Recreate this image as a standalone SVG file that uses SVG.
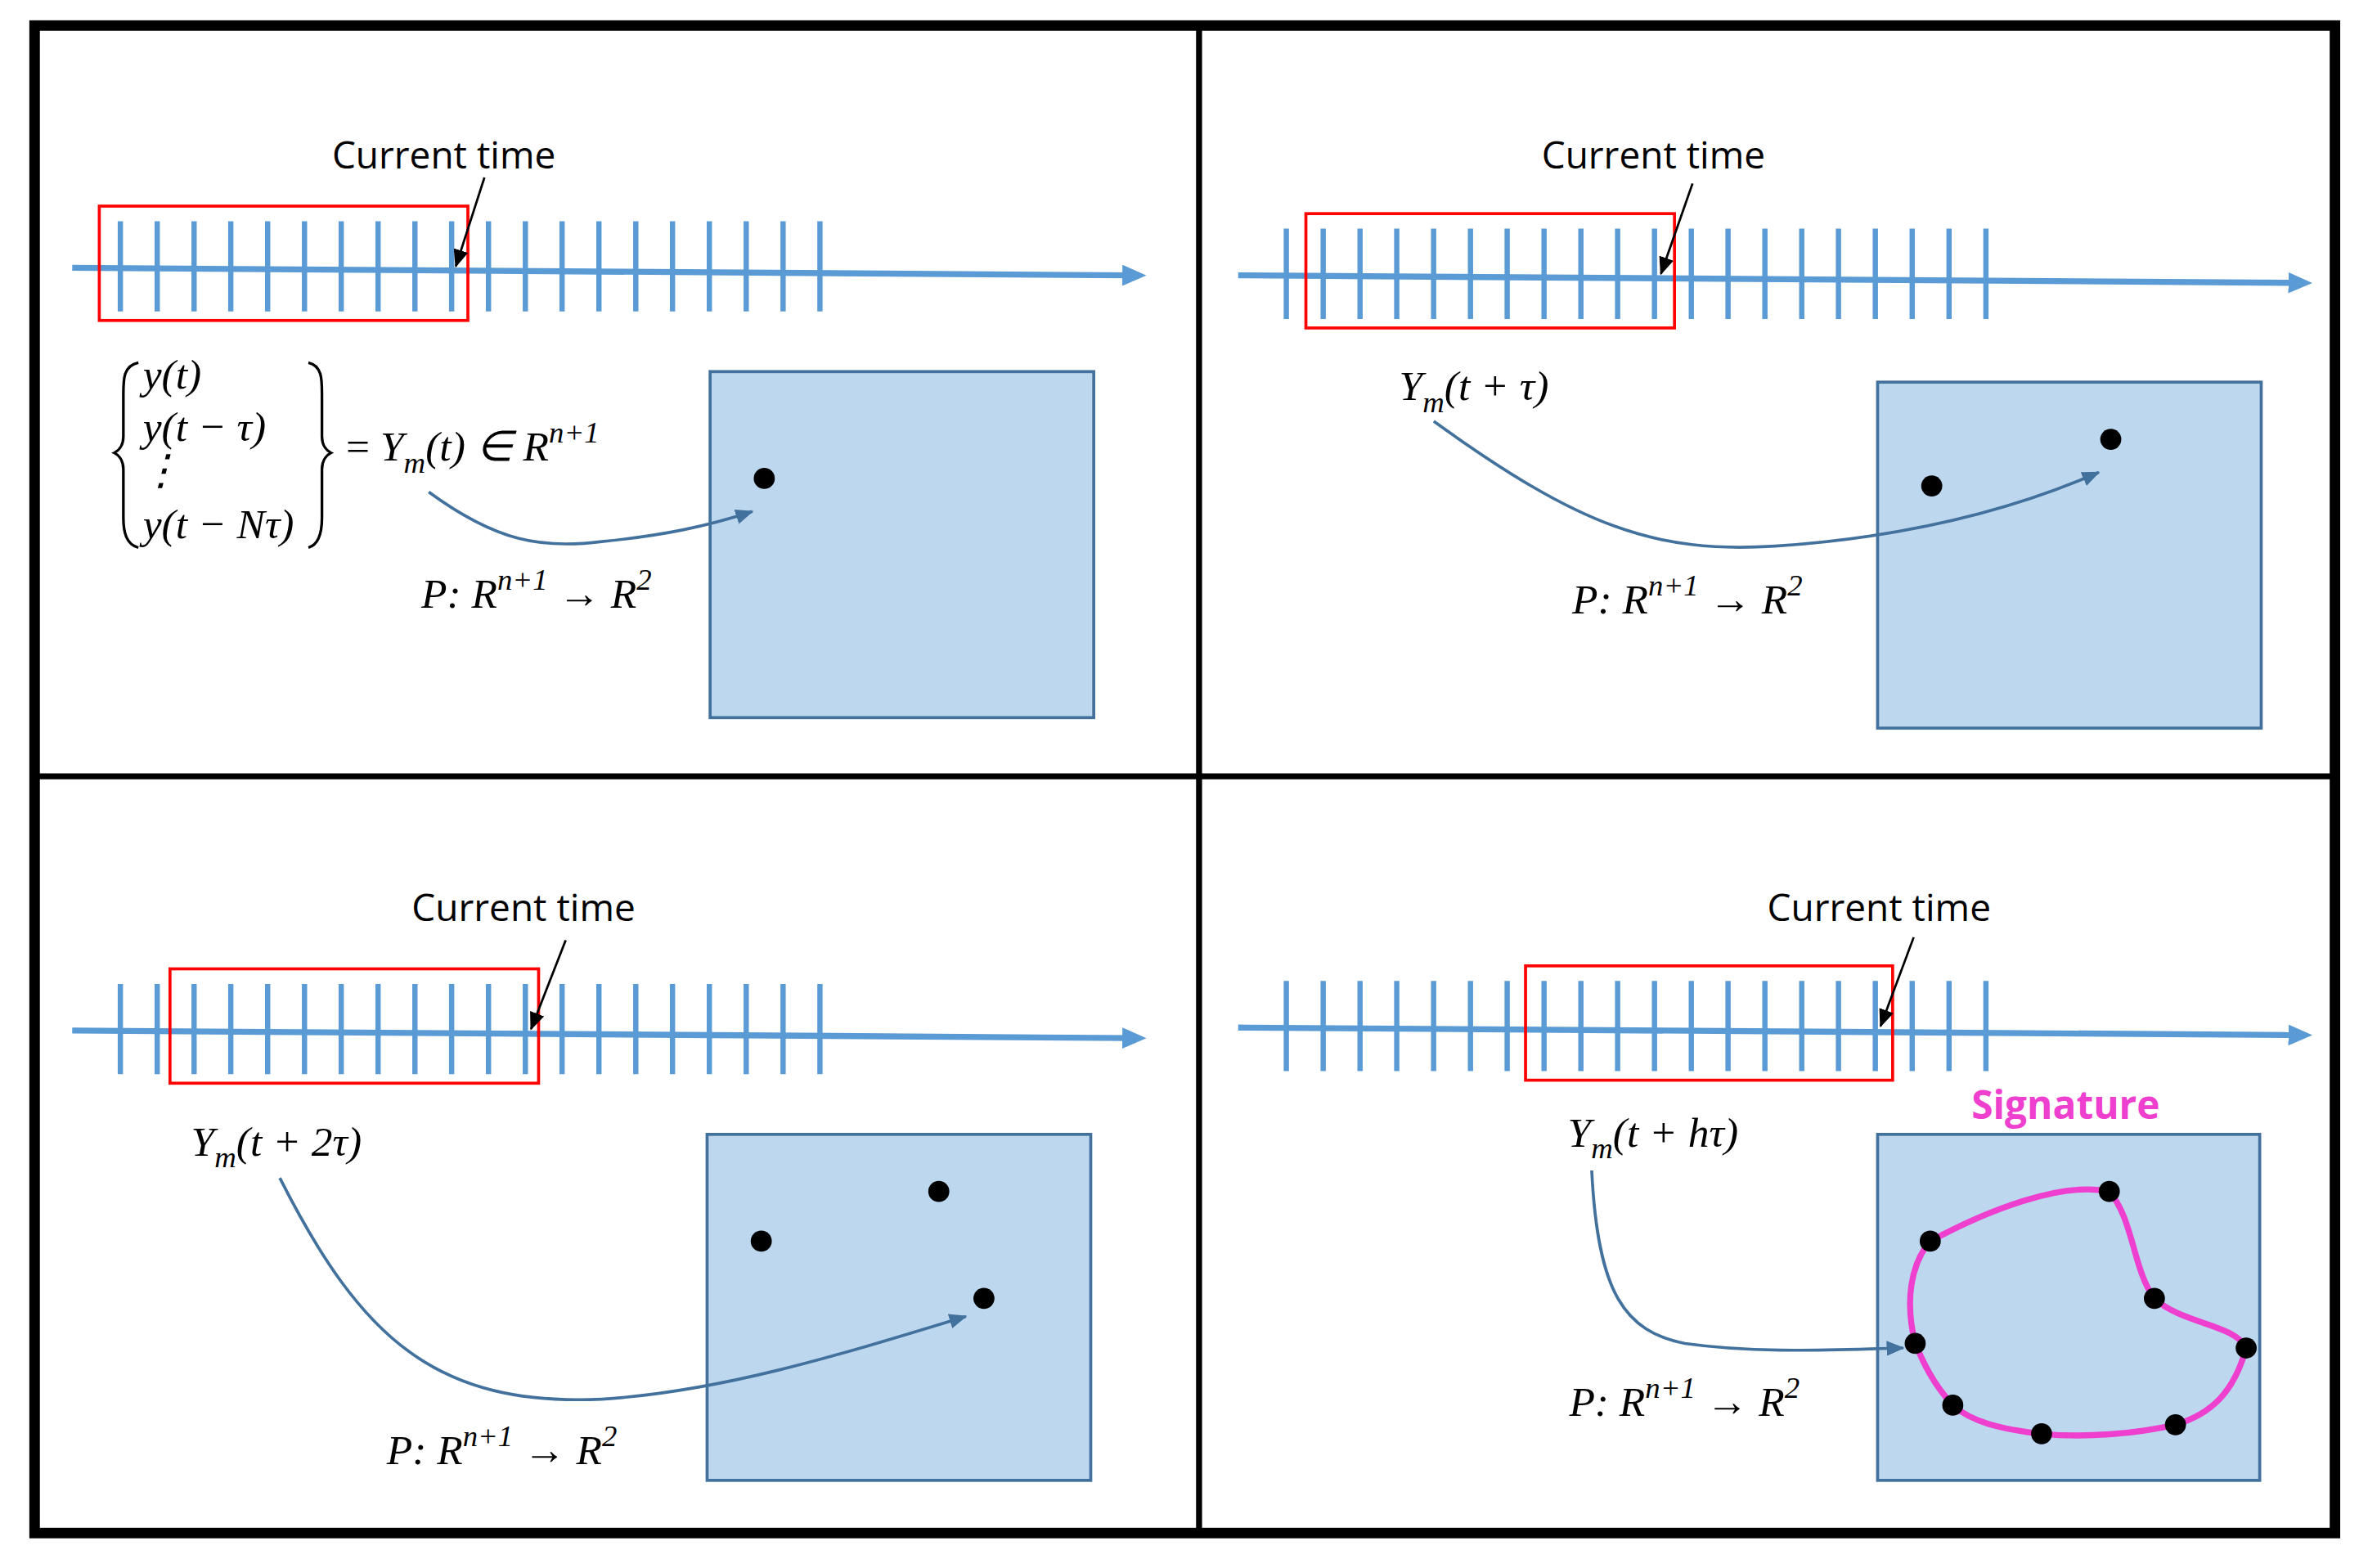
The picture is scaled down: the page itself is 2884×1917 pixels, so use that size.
<svg xmlns="http://www.w3.org/2000/svg" width="2884" height="1917" viewBox="0 0 2884 1917">
<style>
.ax{stroke:#5b9bd5;stroke-width:4;fill:none}
.tk{stroke:#5b9bd5;stroke-width:3.5;fill:none}
.rb{fill:none;stroke:#ff0000;stroke-width:2}
.lbl{font-family:"Open Sans","Liberation Sans",sans-serif;font-size:25px;fill:#000}
.m{font-family:"Liberation Serif",serif;font-style:italic;font-size:28px;fill:#000}
.sq{fill:#bdd7ee;stroke:#41719c;stroke-width:2}
.cv{fill:none;stroke:#41719c;stroke-width:2}
.pa{stroke:#000;stroke-width:1.5;fill:none}
.dot{fill:#000}
</style>
<defs>
<marker id="ah" markerWidth="16" markerHeight="14" refX="4" refY="7" orient="auto" markerUnits="userSpaceOnUse"><path d="M0,0 L16,7 L0,14 z" fill="#5b9bd5"/></marker>
<marker id="ab" markerWidth="12" markerHeight="12" refX="11" refY="6" orient="auto" markerUnits="userSpaceOnUse"><path d="M0,1 L12,6 L0,11 z" fill="#000"/></marker>
<marker id="ac" markerWidth="12" markerHeight="12" refX="11" refY="6" orient="auto" markerUnits="userSpaceOnUse"><path d="M0,1 L12,6 L0,11 z" fill="#41719c"/></marker>
<path id="ticks" class="tk" d="M80,-30V30M104.5,-30V30M129,-30V30M153.4,-30V30M177.9,-30V30M202.4,-30V30M226.8,-30V30M251.3,-30V30M275.8,-30V30M300.2,-30V30M324.7,-30V30M349.2,-30V30M373.6,-30V30M398.1,-30V30M422.6,-30V30M447,-30V30M471.5,-30V30M496,-30V30M520.5,-30V30M545,-30V30"/>
</defs>
<rect width="2884" height="1917" fill="#fff"/>
<g transform="scale(1.8393)">
<g id="frame" fill="none" stroke="#000">
<rect x="23" y="17" width="1529" height="1002" stroke-width="7"/>
<line x1="797" y1="17" x2="797" y2="1019" stroke-width="4"/>
<line x1="23" y1="516" x2="1552" y2="516" stroke-width="4"/>
</g>
<g id="panel1">
<path class="ax" d="M48,178 L750,183" marker-end="url(#ah)"/>
<use href="#ticks" transform="translate(0,177)"/>
<rect class="rb" x="66" y="137" width="245" height="76"/>
<text class="lbl" x="295" y="112" text-anchor="middle">Current time</text>
<path d="M92,241 C82,243 82,252 82,262 L82,290 C82,297 78,300 76,301 C78,302 82,305 82,312 L82,344 C82,354 84,362 92,364" fill="none" stroke="#000" stroke-width="1.8"/>
<path d="M205,241 C214,243 214,252 214,262 L214,290 C214,297 218,300 220,301 C218,302 214,305 214,312 L214,344 C214,354 212,362 205,364" fill="none" stroke="#000" stroke-width="1.8"/>
<text class="m" x="95" y="258">y(t)</text>
<text class="m" x="95" y="293">y(t − τ)</text>
<text class="m" x="93" y="322">⋮</text>
<text class="m" x="95" y="358">y(t − Nτ)</text>
<text class="m" x="230" y="306"><tspan font-style="normal">= </tspan>Y<tspan font-size="20" dy="8">m</tspan><tspan dy="-8">(t) ∈ R</tspan><tspan font-size="20" dy="-12">n+1</tspan></text>
<text class="m" x="280" y="404">P: R<tspan font-size="20" dy="-12">n+1</tspan><tspan dy="12"> → R</tspan><tspan font-size="20" dy="-12">2</tspan></text>
<rect class="sq" x="472" y="247" width="255" height="230"/>
<circle class="dot" cx="508" cy="318" r="7"/>
</g>
<g id="panel2">
<path class="ax" d="M823,183 L1525,188" marker-end="url(#ah)"/>
<use href="#ticks" transform="translate(775,182)"/>
<rect class="rb" x="868" y="142" width="245" height="76"/>
<text class="lbl" x="1099" y="112" text-anchor="middle">Current time</text>
<text class="m" x="930" y="266">Y<tspan font-size="20" dy="8">m</tspan><tspan dy="-8">(t + τ)</tspan></text>
<text class="m" x="1045" y="408">P: R<tspan font-size="20" dy="-12">n+1</tspan><tspan dy="12"> → R</tspan><tspan font-size="20" dy="-12">2</tspan></text>
<rect class="sq" x="1248" y="254" width="255" height="230"/>
<circle class="dot" cx="1284" cy="323" r="7"/>
<circle class="dot" cx="1403" cy="292" r="7"/>
</g>
<g id="panel3">
<path class="ax" d="M48,685 L750,690" marker-end="url(#ah)"/>
<use href="#ticks" transform="translate(0,684)"/>
<rect class="rb" x="113" y="644" width="245" height="76"/>
<text class="lbl" x="348" y="612" text-anchor="middle">Current time</text>
<text class="m" x="127" y="768">Y<tspan font-size="20" dy="8">m</tspan><tspan dy="-8">(t + 2τ)</tspan></text>
<text class="m" x="257" y="973">P: R<tspan font-size="20" dy="-12">n+1</tspan><tspan dy="12"> → R</tspan><tspan font-size="20" dy="-12">2</tspan></text>
<rect class="sq" x="470" y="754" width="255" height="230"/>
<circle class="dot" cx="506" cy="825" r="7"/>
<circle class="dot" cx="624" cy="792" r="7"/>
<circle class="dot" cx="654" cy="863" r="7"/>
</g>
<g id="panel4">
<path class="ax" d="M823,683 L1525,688" marker-end="url(#ah)"/>
<use href="#ticks" transform="translate(775,682)"/>
<rect class="rb" x="1014" y="642" width="244" height="76"/>
<text class="lbl" x="1249" y="612" text-anchor="middle">Current time</text>
<text x="1373" y="744" text-anchor="middle" font-family="'Open Sans','Liberation Sans',sans-serif" font-weight="bold" font-size="26" fill="#ee3fce">Signature</text>
<text class="m" x="1042" y="762">Y<tspan font-size="20" dy="8">m</tspan><tspan dy="-8">(t + hτ)</tspan></text>
<text class="m" x="1043" y="941">P: R<tspan font-size="20" dy="-12">n+1</tspan><tspan dy="12"> → R</tspan><tspan font-size="20" dy="-12">2</tspan></text>
<rect class="sq" x="1248" y="754" width="254" height="230"/>
<path d="M1283,825 C1320,805 1370,785 1402,792 C1418,810 1418,845 1432,863 C1450,880 1485,880 1493,896 C1485,925 1470,940 1446,947 C1420,953 1385,956 1357,953 C1330,950 1310,945 1298,934 C1285,920 1278,905 1273,893 C1266,865 1270,840 1283,825 Z" fill="none" stroke="#ee3fce" stroke-width="4"/>
<g class="dot">
<circle cx="1283" cy="825" r="7"/><circle cx="1402" cy="792" r="7"/><circle cx="1432" cy="863" r="7"/><circle cx="1493" cy="896" r="7"/>
<circle cx="1446" cy="947" r="7"/><circle cx="1357" cy="953" r="7"/><circle cx="1298" cy="934" r="7"/><circle cx="1273" cy="893" r="7"/>
</g>
</g>
<g id="connectors">
<line class="pa" x1="322" y1="118" x2="303" y2="177" marker-end="url(#ab)"/>
<line class="pa" x1="1125" y1="122" x2="1104" y2="182" marker-end="url(#ab)"/>
<line class="pa" x1="376" y1="625" x2="353" y2="684" marker-end="url(#ab)"/>
<line class="pa" x1="1272" y1="623" x2="1250" y2="682" marker-end="url(#ab)"/>
<path class="cv" d="M285,327 C330,360 360,365 400,360 C440,356 470,350 500,340" marker-end="url(#ac)"/>
<path class="cv" d="M953,280 C1050,350 1100,368 1180,363 C1270,357 1340,338 1395,314" marker-end="url(#ac)"/>
<path class="cv" d="M186,783 C240,890 290,935 400,930 C480,925 560,900 642,875" marker-end="url(#ac)"/>
<path class="cv" d="M1058,778 C1062,860 1080,885 1120,893 C1170,900 1220,897 1265,896" marker-end="url(#ac)"/>
</g>
</g>
</svg>
